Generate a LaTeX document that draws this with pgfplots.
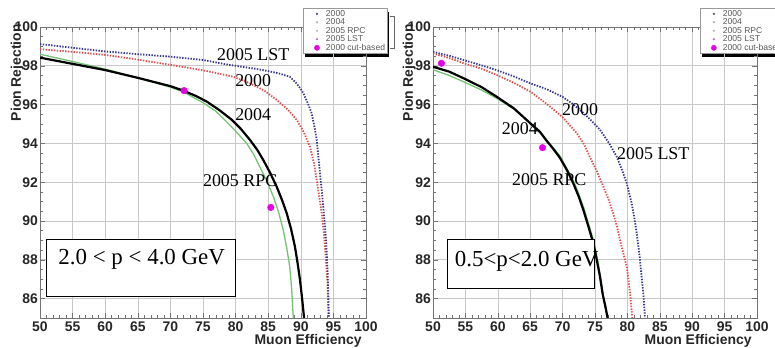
\documentclass[border=0pt]{standalone}
\usepackage{fontspec}
\setmainfont{Liberation Serif}
\setsansfont{Liberation Sans}
\usepackage{pgfplots}
\pgfplotsset{compat=1.18}

\definecolor{lstblue}{RGB}{55,55,145}
\definecolor{oored}{RGB}{222,80,80}
\definecolor{rpcgreen}{RGB}{115,195,115}
\definecolor{cutmag}{RGB}{230,0,230}
\definecolor{gridgray}{RGB}{200,200,200}
\definecolor{lnavy}{RGB}{70,70,120}
\definecolor{lgray}{RGB}{175,175,175}
\definecolor{lgreen}{RGB}{170,195,170}
\definecolor{lpurple}{RGB}{190,110,200}

\tikzset{lbl/.style={font=\fontsize{18}{18}\selectfont, text=black}}

\pgfplotsset{
 panel/.style={
  scale only axis, height=291bp,
  xmin=50, xmax=100, ymin=85, ymax=100,
  xtick={50,55,...,100}, ytick={86,88,...,100},
  minor x tick num=4, minor y tick num=3,
  grid=major, major grid style={gridgray, line width=0.6bp},
  axis line style={black!55, line width=0.6bp},
  tick style={black!55, line width=0.5bp},
  major tick length=5bp, minor tick length=3bp,
  tick align=inside,
  /pgf/number format/assume math mode=true,
  ticklabel style={font=\fontsize{14}{14}\selectfont\sffamily\bfseries, text=black!85},
  yticklabel style={inner sep=2bp},
  xlabel={Muon Efficiency}, ylabel={Pion Rejection},
  label style={font=\fontsize{14}{14}\selectfont\sffamily\bfseries, text=black!85, inner sep=0pt},
  ylabel style={at={(axis description cs:-0.07,1.01)}, anchor=east},
  legend style={anchor=north west, draw=black!40, fill=white,
    font=\fontsize{8.6}{8.6}\selectfont\sffamily, text=black!65,
    inner sep=0.8bp, row sep=-1.0bp, nodes={inner sep=1bp}},
  legend cell align=left,
 },
 lst/.style={lstblue, line width=1.8bp, dash pattern=on 1.4bp off 1.4bp},
 old/.style={oored, line width=1.8bp, dash pattern=on 1.4bp off 1.4bp},
 blk/.style={black, line width=2.2bp},
 rpc/.style={rpcgreen, line width=1.3bp},
 cut/.style={only marks, mark=*, mark size=3.3bp, mark options={fill=cutmag, draw=cutmag}},
}

\newcommand{\legendentries}{%
  \addlegendimage{legend image code/.code={\path (0bp,0bp) (20.5bp,0bp); \fill[lnavy] (12.7bp,0bp) circle (0.9bp);}}
  \addlegendentry{2000}
  \addlegendimage{legend image code/.code={\path (0bp,0bp) (20.5bp,0bp); \fill[lgray] (12.7bp,0bp) circle (0.9bp);}}
  \addlegendentry{2004}
  \addlegendimage{legend image code/.code={\path (0bp,0bp) (20.5bp,0bp); \fill[lgreen] (12.7bp,0bp) circle (0.9bp);}}
  \addlegendentry{2005 RPC}
  \addlegendimage{legend image code/.code={\path (0bp,0bp) (20.5bp,0bp); \fill[lpurple] (12.7bp,0bp) circle (0.9bp);}}
  \addlegendentry{2005 LST}
  \addlegendimage{legend image code/.code={\path (0bp,0bp) (20.5bp,0bp); \fill[cutmag] (12.7bp,0bp) circle (2.6bp);}}
  \addlegendentry{2000 cut-based}
}

\begin{document}
\begin{tikzpicture}
\useasboundingbox (0,0) rectangle (775bp,348bp);

% legend drop shadows (the legends' white boxes cover all but the offset edge)
\fill[black] (305bp,291bp) rectangle (388.9bp,336bp);
\fill[black] (702bp,291bp) rectangle (790bp,336bp);

% ---------------- left panel ----------------
\begin{axis}[panel, width=326bp, at={(40bp,30bp)}, anchor=south west,
  xlabel style={at={(axis description cs:0.987,0)}, anchor=north east, yshift=-16.5bp},
  legend style={at={(axis description cs:0.807,1.065)}}]
\legendentries
\addplot[rpc, forget plot] coordinates {
(50,98.6) (55,98.22) (60,97.83) (65,97.38) (70,96.9) (72,96.65) (75,96.1) (77,95.65)
(79.1,94.95) (80.5,94.45) (81.7,94.0) (82.8,93.42) (83.7,92.8) (84.8,92.05) (85.8,91.25)
(86.6,90.45) (87.3,89.54) (87.85,88.6) (88.3,87.64) (88.6,86.5) (88.85,85.0)};
\addplot[blk, forget plot] coordinates {
(50,98.42) (55,98.1) (60,97.78) (65,97.38) (70,96.95) (72,96.72) (74,96.43) (75.6,96.15)
(77.5,95.72) (79.4,95.22) (80.8,94.75) (82.2,94.18) (83.3,93.68) (84.25,93.14) (85.3,92.48)
(86.3,91.77) (87.1,91.1) (87.84,90.4) (88.5,89.6) (89.1,88.68) (89.5,87.85) (89.88,86.96)
(90.2,86.0) (90.5,85.0)};
\addplot[old, forget plot] coordinates {
(50,98.85) (55,98.72) (60,98.56) (65,98.32) (70,98.05) (75,97.77) (79.6,97.44) (82.2,97.1)
(84.5,96.7) (86.3,96.24) (88,95.75) (89.4,95.2) (90.5,94.55) (91.4,93.83) (92.0,93.0)
(92.44,92.11) (92.85,91.2) (93.2,90.4) (93.5,89.5) (93.7,88.68) (93.9,87.8) (94.07,86.96)
(94.17,86.0) (94.25,85.0)};
\addplot[lst, forget plot] coordinates {
(50,99.12) (55,98.93) (60,98.74) (65,98.6) (70,98.47) (75,98.3) (79,98.05) (82,97.9)
(84.2,97.78) (86.5,97.62) (88.3,97.44) (89.2,97.15) (89.9,96.85) (90.4,96.58) (91.1,96.05)
(91.67,95.55) (92.1,94.85) (92.44,94.18) (92.7,93.3) (92.94,92.46) (93.2,91.6) (93.45,90.74)
(93.67,89.9) (93.87,89.02) (94.0,88.2) (94.12,87.3) (94.22,86.2) (94.3,85.0)};
\addplot[cut, forget plot] coordinates {(72.1,96.72) (85.4,90.7)};
\node[lbl] at (axis cs:82.7,98.59) {2005 LST};
\node[lbl] at (axis cs:82.7,97.22) {2000};
\node[lbl] at (axis cs:82.7,95.46) {2004};
\node[lbl] at (axis cs:80.7,92.1) {2005 RPC};
\filldraw[fill=white, draw=black, line width=0.8bp] (axis cs:51.0,89.03) rectangle (axis cs:80.0,86.12);
\node[font=\fontsize{23}{23}\selectfont] at (axis cs:65.6,88.0) {2.0 < p < 4.0 GeV};
\end{axis}

% ---------------- right panel ----------------
\begin{axis}[panel, width=324bp, at={(433bp,30bp)}, anchor=south west,
  xlabel style={at={(axis description cs:0.984,0)}, anchor=north east, yshift=-16.5bp},
  ylabel style={at={(axis description cs:-0.073,1.01)}},
  legend style={at={(axis description cs:0.824,1.065)}}]
\legendentries
\addplot[rpc, forget plot] coordinates {
(50,97.8) (52.5,97.5) (54.7,97.18) (57.5,96.75) (59.8,96.33) (62.5,95.77) (65,95.05)
(67.5,94.2) (69.6,93.35) (71.65,92.1) (72.5,91.4) (73.3,90.65) (74.1,89.75) (74.85,88.9)
(75.4,88.0) (75.85,87.13) (76.25,86.2) (76.55,85.6) (76.9,85.0)};
\addplot[blk, forget plot] coordinates {
(50,97.95) (52.5,97.7) (54.7,97.36) (57.5,96.9) (59.8,96.41) (62.5,95.8) (65,95.04)
(66.5,94.6) (67.5,94.15) (68.6,93.7) (69.6,93.25) (70.7,92.6) (71.65,91.94) (72.5,91.25)
(73.2,90.57) (74.0,89.7) (74.74,88.85) (75.3,87.95) (75.77,87.13) (76.2,86.2) (76.6,85.6)
(76.95,85.0)};
\addplot[old, forget plot] coordinates {
(50,98.64) (52.5,98.4) (54.7,98.13) (57.5,97.85) (59.8,97.53) (62.5,97.12) (65,96.67)
(67.5,96.05) (70,95.35) (72.2,94.52) (73.3,93.95) (74.2,93.31) (75.3,92.55) (76.3,91.77)
(77.1,91.1) (77.8,90.4) (78.4,89.7) (78.86,89.02) (79.4,88.3) (79.9,87.64) (80.2,86.9)
(80.4,86.27) (80.6,85.6) (80.75,85.0)};
\addplot[lst, forget plot] coordinates {
(50,98.72) (52.5,98.52) (54.7,98.3) (57.5,98.02) (59.8,97.78) (62.5,97.45) (65,97.1)
(67.5,96.8) (70,96.4) (71.5,96.05) (72.7,95.72) (74.3,95.22) (75.8,94.69) (77.2,94.0)
(78.35,93.31) (79.2,92.6) (79.9,91.94) (80.66,90.91) (81.1,90.1) (81.43,89.37) (81.7,88.7)
(81.94,87.99) (82.2,87.1) (82.45,86.27) (82.6,85.6) (82.7,85.0)};
\addplot[cut, forget plot] coordinates {(51.3,98.13) (66.9,93.78)};
\node[lbl] at (axis cs:72.7,95.72) {2000};
\node[lbl] at (axis cs:63.4,94.78) {2004};
\node[lbl] at (axis cs:84.0,93.45) {2005 LST};
\node[lbl] at (axis cs:67.95,92.11) {2005 RPC};
\filldraw[fill=white, draw=black, line width=0.8bp] (axis cs:52.2,89.06) rectangle (axis cs:74.85,86.53);
\node[font=\fontsize{23}{23}\selectfont] at (axis cs:64.46,87.9) {0.5<p<2.0 GeV};
\end{axis}

\draw[black!60, line width=0.6bp] (389.5bp,332bp) -- (394bp,332bp) -- (394bp,300bp) -- (389.5bp,300bp);
\end{tikzpicture}
\end{document}
